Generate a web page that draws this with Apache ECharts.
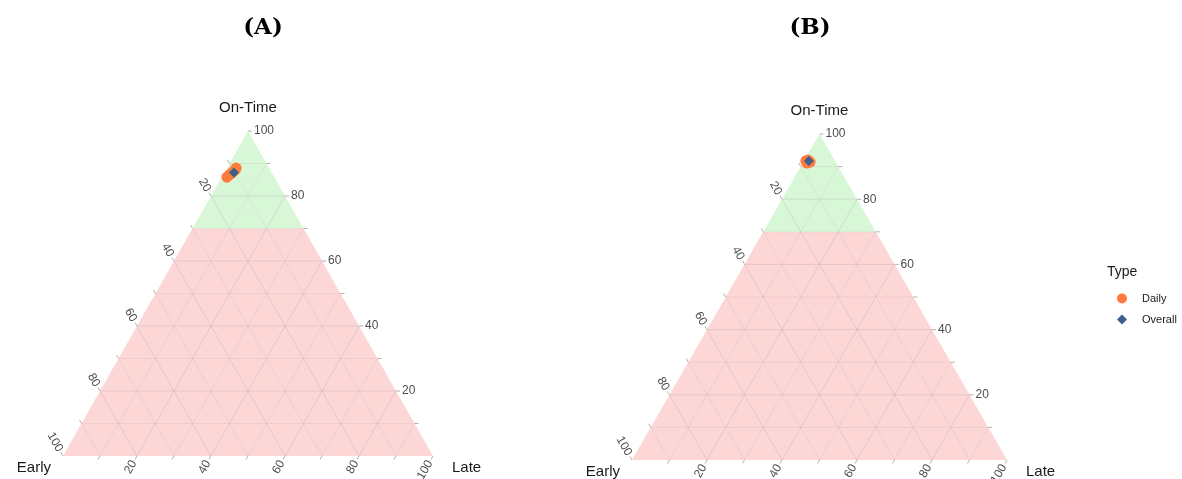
<!DOCTYPE html>
<html><head><meta charset="utf-8">
<script src="https://cdn.jsdelivr.net/npm/echarts/dist/echarts.min.js"></script>
<style>html,body{margin:0;padding:0;background:#fff}#c{width:1182px;height:479px}</style>
</head><body><div id="c"></div>
<script>
// Ternary compositions: [Early, On-Time, Late] in percent
const panelTitles = ['(A)', '(B)'];
const axisNames = { left: 'Early', top: 'On-Time', right: 'Late' };
const labelValues = [20, 40, 60, 80, 100];
const tickValues = [10, 20, 30, 40, 50, 60, 70, 80, 90, 100];
const gridValues = [10, 20, 30, 40, 50, 60, 70, 80, 90];
const onTimeThreshold = 70;
const dailyA = [[12.8, 85.8, 1.4], [11.8, 86.5, 1.7], [11.2, 86.8, 2.0], [10.4, 87.4, 2.2], [9.5, 88.0, 2.5], [8.9, 88.6, 2.5]];
const overallA = [[10.2, 87.2, 2.6]];
const dailyB = [[7.8, 91.7, 0.5], [7.1, 92.0, 0.9], [6.8, 91.4, 1.8], [7.8, 91.1, 1.1]];
const overallB = [[7.0, 91.7, 1.3]];
const legendTitle = 'Type';
const seriesNames = ['Daily', 'Overall'];

function toXY(t) {
  const s = t[0] + t[1] + t[2];
  const o = t[1] / s * 100, l = t[2] / s * 100;
  return [l + o / 2, o];
}

const LABEL_FONT = '"Liberation Sans", Arial, sans-serif';

function makeRender() {
  return function (params, api) {
    const P = t => api.coord(toXY(t));
    const ch = [];
    const th = onTimeThreshold;
    const top = [0, 100, 0], bl = [100, 0, 0], br = [0, 0, 100];
    const gL = [100 - th, th, 0], gR = [0, th, 100 - th];
    ch.push({ type: 'polygon', shape: { points: [P(bl), P(br), P(gR), P(gL)] }, style: { fill: '#FDD6D6' } });
    ch.push({ type: 'polygon', shape: { points: [P(gL), P(gR), P(top)] }, style: { fill: '#D8F7D6' } });
    const line = (a, b, st) => ch.push({ type: 'line', shape: { x1: a[0], y1: a[1], x2: b[0], y2: b[1] }, style: st });
    gridValues.forEach(v => {
      const major = v % 20 === 0;
      const st = { stroke: major ? 'rgba(150,130,130,0.20)' : 'rgba(150,130,130,0.12)', lineWidth: 1 };
      line(P([100 - v, v, 0]), P([0, v, 100 - v]), st);   // On-Time = v
      line(P([v, 100 - v, 0]), P([v, 0, 100 - v]), st);   // Early = v
      line(P([100 - v, 0, v]), P([0, 100 - v, v]), st);   // Late = v
    });
    const pT = P(top), pL = P(bl), pR = P(br);
    const unit = (a, b) => { const dx = b[0] - a[0], dy = b[1] - a[1]; const n = Math.hypot(dx, dy); return [dx / n, dy / n]; };
    const dirRight = [1, 0];
    const dirLeft = unit(pR, pT);   // up-left
    const dirBottom = unit(pT, pL); // down-left
    const TL = 4, GAP = 2;
    const tickSt = { stroke: '#b0b0b0', lineWidth: 1 };
    const txt = (x, y, text, align, rot) => ch.push({
      type: 'text', x: x, y: y, rotation: rot || 0,
      style: { text: String(text), align: align, verticalAlign: 'middle', fontSize: 12, fontFamily: LABEL_FONT, fill: '#4d4d4d' }
    });
    tickValues.forEach(v => {
      const lab = labelValues.indexOf(v) >= 0;
      let p = P([0, v, 100 - v]);
      line(p, [p[0] + dirRight[0] * TL, p[1] + dirRight[1] * TL], tickSt);
      if (lab) txt(p[0] + TL + GAP, p[1], v, 'left', 0);
      p = P([v, 100 - v, 0]);
      line(p, [p[0] + dirLeft[0] * TL, p[1] + dirLeft[1] * TL], tickSt);
      if (lab) txt(p[0] + dirLeft[0] * (TL + GAP), p[1] + dirLeft[1] * (TL + GAP), v, 'right', -Math.PI / 3);
      p = P([100 - v, 0, v]);
      line(p, [p[0] + dirBottom[0] * TL, p[1] + dirBottom[1] * TL], tickSt);
      if (lab) txt(p[0] + dirBottom[0] * (TL + GAP), p[1] + dirBottom[1] * (TL + GAP), v, 'right', Math.PI / 3);
    });
    const ttl = (x, y, text, align) => ch.push({
      type: 'text', x: x, y: y,
      style: { text: text, align: align, verticalAlign: 'middle', fontSize: 15, fontFamily: LABEL_FONT, fill: '#1a1a1a' }
    });
    ttl(pT[0], pT[1] - 23, axisNames.top, 'center');
    ttl(pL[0] - 12, pL[1] + 12, axisNames.left, 'right');
    ttl(pR[0] + 19, pR[1] + 12, axisNames.right, 'left');
    return { type: 'group', children: ch };
  };
}

const DAILY_COLOR = '#FF7A3D';
const OVERALL_COLOR = '#3E5F8A';

const grids = [
  { left: 63, top: 131, width: 370, height: 325 },
  { left: 632, top: 134, width: 375, height: 326 }
];
const panels = [
  { daily: dailyA, overall: overallA, titleX: 263 },
  { daily: dailyB, overall: overallB, titleX: 810 }
];

const series = [];
panels.forEach((pn, i) => {
  series.push({
    type: 'custom', xAxisIndex: i, yAxisIndex: i, z: 1, silent: true,
    renderItem: makeRender(), data: [[50, 50]], clip: false
  });
});
panels.forEach((pn, i) => {
  series.push({
    type: 'scatter', name: seriesNames[0], xAxisIndex: i, yAxisIndex: i, z: 3,
    symbol: 'circle', symbolSize: 11, itemStyle: { color: DAILY_COLOR, opacity: 1 },
    data: pn.daily.map(toXY)
  });
});
panels.forEach((pn, i) => {
  series.push({
    type: 'scatter', name: seriesNames[1], xAxisIndex: i, yAxisIndex: i, z: 4,
    symbol: 'diamond', symbolSize: 10, itemStyle: { color: OVERALL_COLOR, opacity: 1 },
    data: pn.overall.map(toXY)
  });
});

const chart = echarts.init(document.getElementById('c'), null, { renderer: 'canvas' });
chart.setOption({
  animation: false,
  backgroundColor: '#ffffff',
  grid: grids,
  xAxis: grids.map((g, i) => ({ type: 'value', gridIndex: i, min: 0, max: 100, show: false })),
  yAxis: grids.map((g, i) => ({ type: 'value', gridIndex: i, min: 0, max: 100, show: false })),
  tooltip: { show: false },
  legend: {
    data: seriesNames, orient: 'vertical', left: 1112, top: 288, itemGap: 10,
    itemWidth: 10, itemHeight: 10, selectedMode: false,
    textStyle: { fontSize: 11, fontFamily: LABEL_FONT, color: '#1a1a1a', padding: [0, 0, 0, 10] }
  },
  graphic: [
    { type: 'text', x: panels[0].titleX, y: 28, style: { text: panelTitles[0], align: 'center', verticalAlign: 'middle', fontSize: 23, fontWeight: 'bold', fontFamily: '"DejaVu Serif", serif', fill: '#000' } },
    { type: 'text', x: panels[1].titleX, y: 28, style: { text: panelTitles[1], align: 'center', verticalAlign: 'middle', fontSize: 23, fontWeight: 'bold', fontFamily: '"DejaVu Serif", serif', fill: '#000' } },
    { type: 'text', x: 1107, y: 272, style: { text: legendTitle, align: 'left', verticalAlign: 'middle', fontSize: 14, fontFamily: LABEL_FONT, fill: '#1a1a1a' } }
  ],
  series: series
});
</script>
</body></html>
